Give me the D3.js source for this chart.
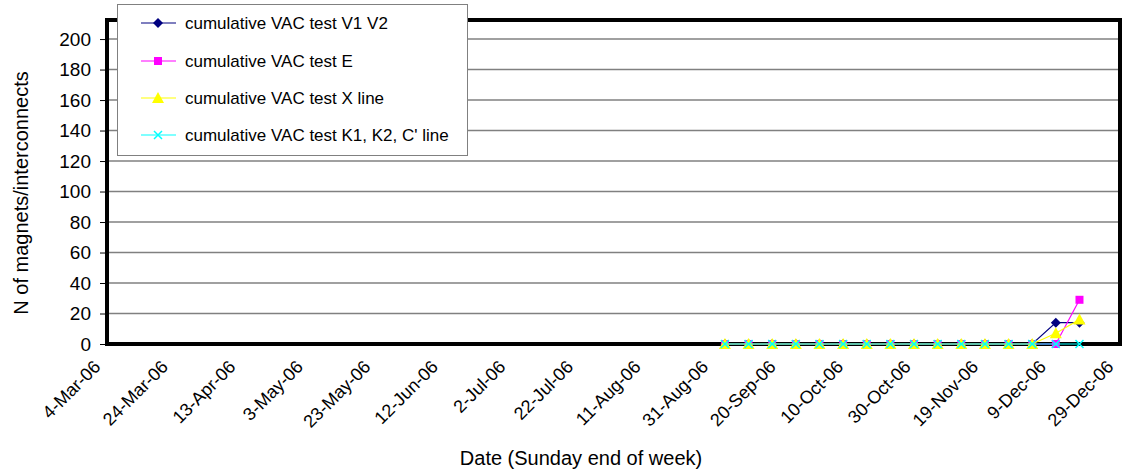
<!DOCTYPE html>
<html>
<head>
<meta charset="utf-8">
<script src="https://cdn.jsdelivr.net/npm/d3@7"></script>
<style>
body { margin: 0; background: #fff; }
text { font-family: "Liberation Sans", Arial, sans-serif; fill: #000; }
.grid { stroke: #808080; stroke-width: 1.5; }
.frame { fill: none; stroke: #000; stroke-width: 4; }
</style>
</head>
<body>
<div id="canvas-container"></div>
<script>
// weekly Sundays shown in the chart
var weeks = ["3-Sep-06", "10-Sep-06", "17-Sep-06", "24-Sep-06", "1-Oct-06", "8-Oct-06",
    "15-Oct-06", "22-Oct-06", "29-Oct-06", "5-Nov-06", "12-Nov-06", "19-Nov-06",
    "26-Nov-06", "3-Dec-06", "10-Dec-06", "17-Dec-06"];

var v1v2 = [0, 0, 0, 0, 0, 0, 0, 0, 0, 0, 0, 0, 0, 0, 14, 14];
var testE = [0, 0, 0, 0, 0, 0, 0, 0, 0, 0, 0, 0, 0, 0, 0, 29];
var xLine = [0, 0, 0, 0, 0, 0, 0, 0, 0, 0, 0, 0, 0, 0, 7, 16];
var kLine = [0, 0, 0, 0, 0, 0, 0, 0, 0, 0, 0, 0, 0, 0, 0, 0];

var seriesNames = ["cumulative VAC test V1 V2", "cumulative VAC test E",
    "cumulative VAC test X line", "cumulative VAC test K1, K2, C' line"];

var xTicks = ["4-Mar-06", "24-Mar-06", "13-Apr-06", "3-May-06", "23-May-06", "12-Jun-06",
    "2-Jul-06", "22-Jul-06", "11-Aug-06", "31-Aug-06", "20-Sep-06", "10-Oct-06",
    "30-Oct-06", "19-Nov-06", "9-Dec-06", "29-Dec-06"];
var yTicks = [0, 20, 40, 60, 80, 100, 120, 140, 160, 180, 200];

docMain();

function docMain() {
    var w = 1127, h = 475;
    var left = 107, right = 1120, top = 20, bottom = 344;
    var parse = d3.utcParse("%d-%b-%y");

    var svg = d3.select("#canvas-container").append("svg")
        .attr("width", w)
        .attr("height", h);

    var x = d3.scaleUtc()
        .domain([parse(xTicks[0]), parse(xTicks[xTicks.length - 1])])
        .range([left, right]);
    var y = d3.scaleLinear()
        .domain([0, 212.5])
        .range([bottom, top]);

    // grid lines
    svg.append("g").selectAll("line")
        .data(yTicks.slice(1))
        .enter().append("line")
        .attr("class", "grid")
        .attr("x1", left)
        .attr("x2", right)
        .attr("y1", function(d) { return y(d); })
        .attr("y2", function(d) { return y(d); });

    // y axis
    var yAxis = svg.append("g")
        .attr("transform", "translate(" + left + ",0)")
        .call(d3.axisLeft(y).tickValues(yTicks).tickSize(7).tickPadding(9));
    yAxis.select(".domain").remove();
    yAxis.selectAll("line").attr("stroke", "#000");
    yAxis.selectAll("text")
        .style("font-size", "19px")
        .style("font-family", "Liberation Sans, Arial, sans-serif");

    // x axis labels (no tick marks)
    var xAxis = svg.append("g")
        .attr("transform", "translate(0," + bottom + ")")
        .call(d3.axisBottom(x).tickValues(xTicks.map(parse)).tickSize(0)
            .tickFormat(function(d, i) { return xTicks[i]; }));
    xAxis.select(".domain").remove();
    xAxis.selectAll("text")
        .style("font-size", "18px")
        .style("font-family", "Liberation Sans, Arial, sans-serif")
        .attr("text-anchor", "end")
        .attr("dy", null)
        .attr("y", null)
        .attr("transform", "translate(-6,24) rotate(-45)");

    // frame
    svg.append("rect")
        .attr("class", "frame")
        .attr("x", left)
        .attr("y", top)
        .attr("width", right - left)
        .attr("height", bottom - top);

    var colors = ["#000080", "#ff00ff", "#ffff00", "#00ffff"];
    var allSeries = [v1v2, testE, xLine, kLine];
    var dates = weeks.map(parse);

    var line = d3.line()
        .x(function(d, i) { return x(dates[i]); })
        .y(function(d) { return y(d); });

    function marker(g, k, cx, cy) {
        var c = colors[k];
        if (k == 0) {
            g.append("path").attr("d", "M" + cx + "," + (cy - 5) + "L" + (cx + 5) + "," + cy +
                "L" + cx + "," + (cy + 5) + "L" + (cx - 5) + "," + cy + "Z").attr("fill", c);
        } else if (k == 1) {
            g.append("rect").attr("x", cx - 4).attr("y", cy - 4)
                .attr("width", 8).attr("height", 8).attr("fill", c);
        } else if (k == 2) {
            g.append("path").attr("d", "M" + cx + "," + (cy - 6) + "L" + (cx + 6) + "," + (cy + 5) +
                "L" + (cx - 6) + "," + (cy + 5) + "Z").attr("fill", c);
        } else {
            g.append("path").attr("d", "M" + (cx - 4) + "," + (cy - 4) + "L" + (cx + 4) + "," + (cy + 4) +
                "M" + (cx + 4) + "," + (cy - 4) + "L" + (cx - 4) + "," + (cy + 4))
                .attr("stroke", c).attr("stroke-width", 1.5).attr("fill", "none");
        }
    }

    for (var k = 0; k < allSeries.length; k++) {
        var g = svg.append("g");
        g.append("path")
            .datum(allSeries[k])
            .attr("d", line)
            .attr("fill", "none")
            .attr("stroke", colors[k])
            .attr("stroke-width", 1.2);
        for (var i = 0; i < allSeries[k].length; i++) {
            marker(g, k, x(dates[i]), y(allSeries[k][i]));
        }
    }

    // legend
    var lg = svg.append("g");
    lg.append("rect")
        .attr("x", 117.5).attr("y", 4.5)
        .attr("width", 350).attr("height", 151)
        .attr("fill", "#fff")
        .attr("stroke", "#808080");
    var rows = [23, 61, 98, 135];
    for (var j = 0; j < seriesNames.length; j++) {
        lg.append("line")
            .attr("x1", 141).attr("x2", 176)
            .attr("y1", rows[j]).attr("y2", rows[j])
            .attr("stroke", colors[j]).attr("stroke-width", 1.2);
        marker(lg, j, 158, rows[j]);
        lg.append("text")
            .attr("x", 185).attr("y", rows[j])
            .attr("dy", "0.35em")
            .style("font-size", "17px")
            .text(seriesNames[j]);
    }

    // axis titles
    svg.append("text")
        .attr("transform", "translate(28,193) rotate(-90)")
        .attr("text-anchor", "middle")
        .style("font-size", "20px")
        .text("N of magnets/interconnects");
    svg.append("text")
        .attr("x", 581).attr("y", 465)
        .attr("text-anchor", "middle")
        .style("font-size", "20px")
        .text("Date (Sunday end of week)");
}
</script>
</body>
</html>
